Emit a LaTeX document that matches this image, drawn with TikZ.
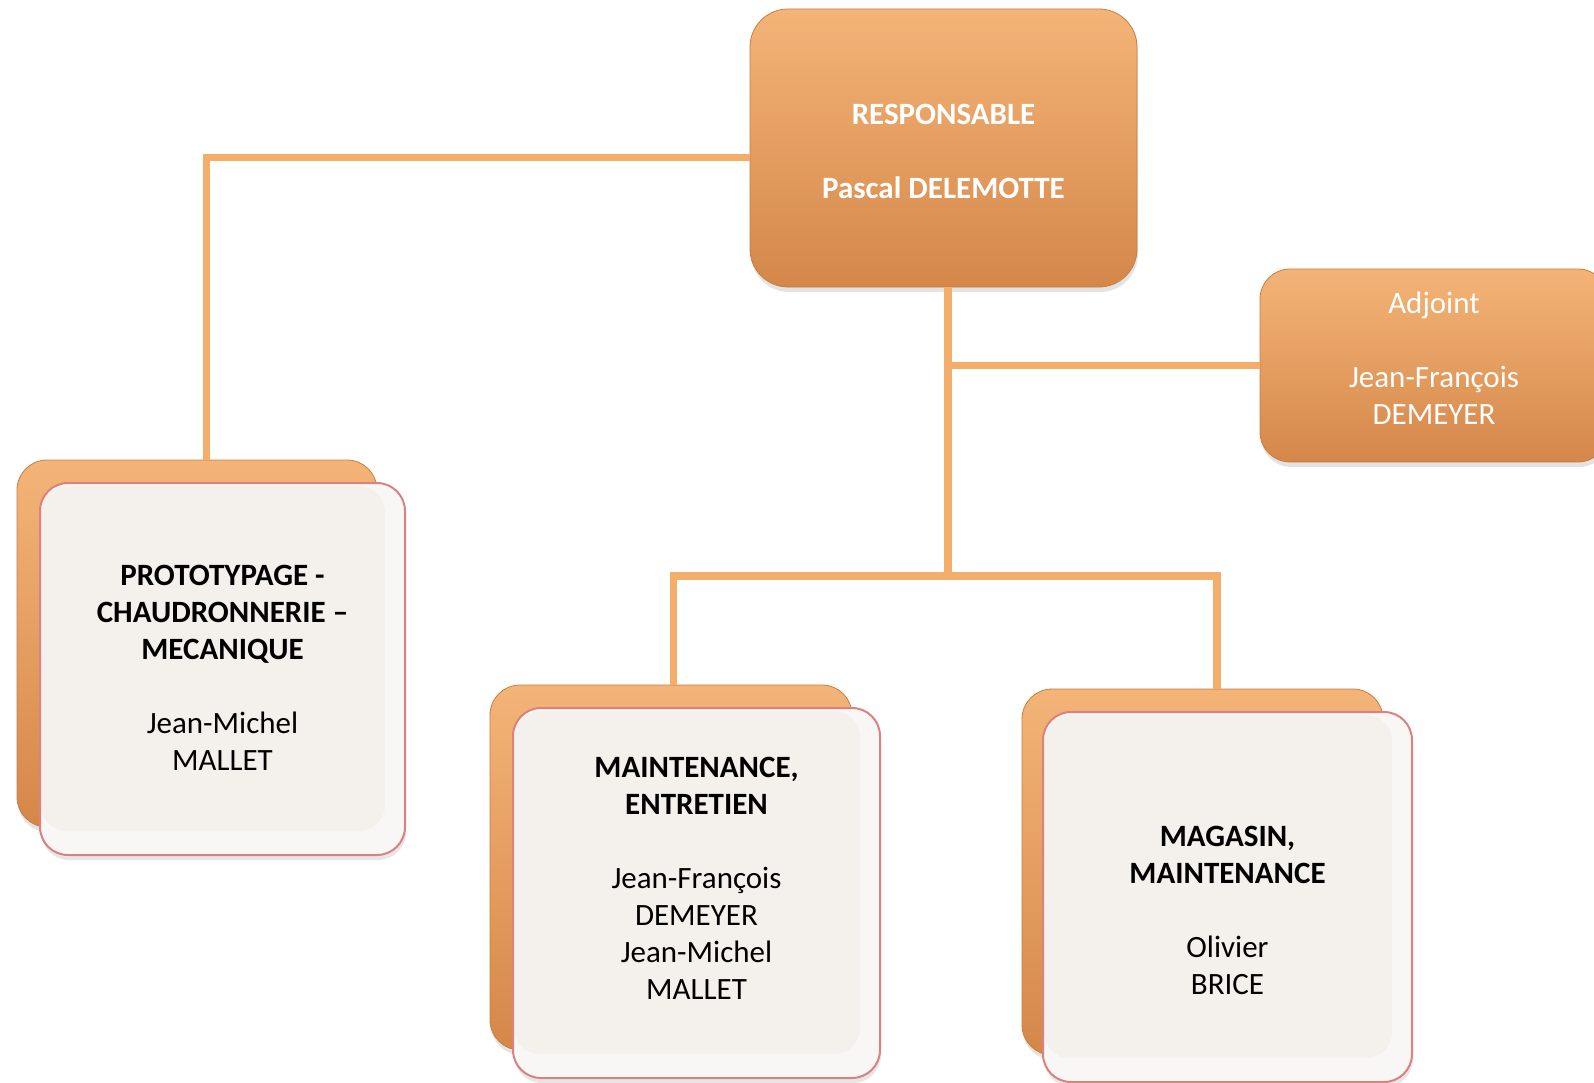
\documentclass[tikz,border=0pt]{standalone}
\usepackage{fontspec}
\setmainfont{Carlito}
\usetikzlibrary{positioning,shadows}
\definecolor{orangetop}{HTML}{F4B477}
\definecolor{orangebot}{HTML}{D5874A}
\definecolor{orangeedge}{HTML}{C87D40}
\definecolor{linkcol}{HTML}{F4AE6A}
\definecolor{cardouter}{HTML}{F9F7F6}
\definecolor{cardinner}{HTML}{F4F0EC}
\definecolor{cardedge}{HTML}{D9827F}
\tikzset{%
  orangebox/.style={rectangle, rounded corners=#1, inner sep=0pt,
    top color=orangetop, bottom color=orangebot, draw=orangeedge, line width=0.8pt,
    drop shadow={opacity=0.22, shadow xshift=1pt, shadow yshift=-5pt}},
  orangebox/.default=38pt,
  cardfront/.style={rectangle, rounded corners=28pt, inner sep=0pt,
    fill=cardouter, draw=cardedge, line width=2pt,
    drop shadow={opacity=0.2, shadow xshift=1pt, shadow yshift=-5pt},
    path picture={\fill[cardinner, rounded corners=26pt]
      ([shift={(1pt,-3pt)}]path picture bounding box.north west) rectangle
      ([shift={(-20pt,24pt)}]path picture bounding box.south east);}},
  link/.style={draw=linkcol, line width=7.5pt},
  boxtext/.style={align=center, text=white, font=\fontsize{31}{37}\selectfont},
  cardtext/.style={align=center, text=black, font=\fontsize{31}{37}\selectfont}
}

\begin{document}
\begin{tikzpicture}[x=1pt,y=-1pt] % organigramme atelier
\useasboundingbox (0,0) rectangle (1594,1083);

% direction
\node[orangebox, minimum width=387pt, minimum height=278pt] (resp) at (943.5,148) {};
\node[orangebox=30pt, minimum width=348pt, minimum height=193pt] (adj) at (1434,365.5) {};
\node[boxtext, font=\fontsize{31}{37}\selectfont\bfseries, yshift=-3pt] (resptext) at (resp.center)
  {RESPONSABLE\\[37pt]Pascal DELEMOTTE};
\node[boxtext, yshift=7pt] (adjtext) at (adj.center) {Adjoint\\[37pt]Jean-François\\DEMEYER};

% liaisons
\coordinate (protoknee) at (206.5,157.5);
\coordinate (hub) at (948,576);
\coordinate (maintknee) at (673.5,576);
\coordinate (magknee) at (1217,576);

% services (carte orange + carte blanche)
\node[orangebox=30pt, minimum width=360pt, minimum height=367pt] (protoback) at (197,643.5) {};
\node[cardfront, minimum width=365pt, minimum height=372pt] (protofront) at (222.5,669) {};
\node[orangebox=30pt, minimum width=362pt, minimum height=365pt] (maintback) at (671,867.5) {};
\node[cardfront, minimum width=367pt, minimum height=370pt] (maintfront) at (696.5,893) {};
\node[orangebox=30pt, minimum width=361pt, minimum height=366pt] (magback) at (1202.5,872) {};
\node[cardfront, minimum width=369pt, minimum height=370pt] (magfront) at (1227.5,897) {};

\node[cardtext, yshift=1pt] (prototext) at (protofront.center)
  {\textbf{PROTOTYPAGE -}\\\textbf{CHAUDRONNERIE –}\\\textbf{MECANIQUE}\\[37pt]Jean-Michel\\MALLET};
\node[cardtext, yshift=15pt] (mainttext) at (maintfront.center)
  {\textbf{MAINTENANCE,}\\\textbf{ENTRETIEN}\\[37pt]Jean-François\\DEMEYER\\Jean-Michel\\MALLET};
\node[cardtext, yshift=-13pt] (magtext) at (magfront.center)
  {\textbf{MAGASIN,}\\\textbf{MAINTENANCE}\\[37pt]Olivier\\BRICE};

\draw[link] (resp.west |- protoknee) -- (protoknee) -- (protoknee |- protoback.north);
\draw[link] (hub |- resp.south) -- (hub);
\draw[link] (hub |- adj.west) -- (adj.west);
\draw[link] (maintknee |- maintback.north) -- (maintknee) -- (magknee) -- (magknee |- magback.north);

\end{tikzpicture}
\end{document}
